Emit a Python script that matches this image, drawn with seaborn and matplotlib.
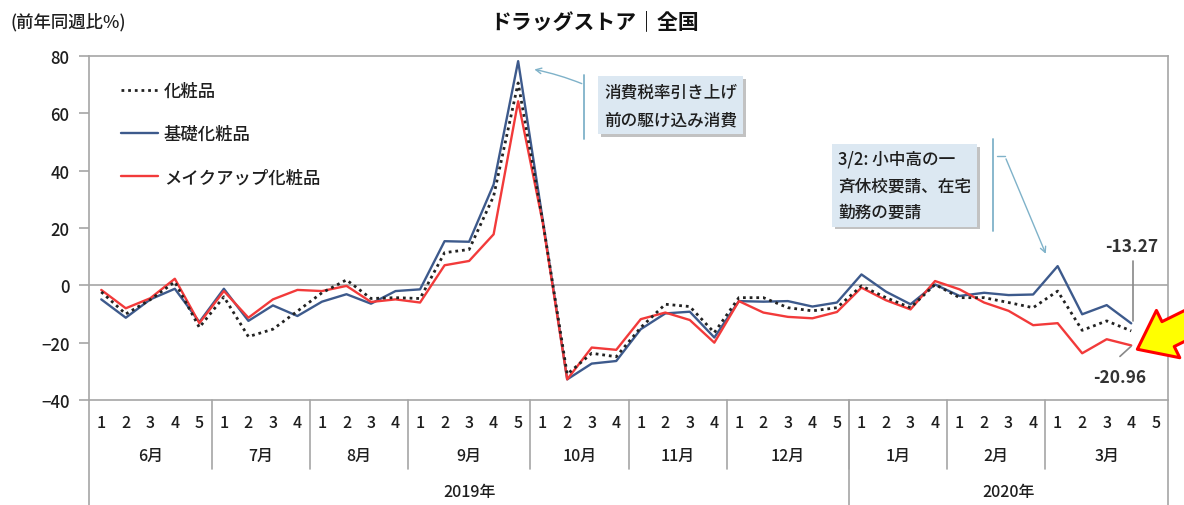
import matplotlib
matplotlib.use("Agg")
import matplotlib.pyplot as plt
import matplotlib.patheffects as pe
import matplotlib.transforms as mtransforms
import numpy as np
import pandas as pd
import seaborn as sns

sns.set_style("white")
plt.rcParams['font.family'] = ['Noto Sans CJK JP', 'DejaVu Sans']

# x axis structure: weeks within months within years
months = ['6月', '7月', '8月', '9月', '10月', '11月', '12月', '1月', '2月', '3月']
weeks_per_month = [5, 4, 4, 5, 4, 4, 5, 4, 4, 5]
years = ['2019年', '2020年']
months_per_year = [7, 3]

# weekly YoY change (%), June wk1 2019 .. March wk4 2020
cosmetics = [-2.3, -10.0, -5.0, 1.2, -14.7, -4.0, -17.9, -15.3, -9.0, -2.6,
             1.9, -4.6, -4.3, -4.6, 11.4, 12.5, 31.1, 70.6, 22.5, -31.0,
             -23.7, -24.9, -14.7, -6.6, -7.4, -16.5, -4.3, -4.3, -7.8, -8.9,
             -7.8, -0.2, -4.3, -7.8, 0.3, -4.3, -4.3, -6.0, -7.8, -2.0,
             -15.7, -12.4, -15.9]
basic = [-4.9, -11.3, -4.9, -1.2, -12.8, -1.2, -12.4, -7.0, -10.7, -5.7,
         -3.1, -6.4, -2.0, -1.4, 15.4, 15.2, 35.2, 78.2, 23.0, -32.8,
         -27.3, -26.4, -15.3, -9.8, -9.2, -18.2, -5.5, -5.7, -5.5, -7.4,
         -6.0, 3.8, -2.2, -6.6, 0.3, -3.7, -2.6, -3.4, -3.2, 6.7,
         -10.1, -6.9, -13.27]
makeup = [-1.6, -8.0, -4.5, 2.3, -13.2, -2.0, -11.3, -4.9, -1.6, -2.0,
          -0.2, -5.8, -4.9, -6.0, 7.0, 8.5, 17.8, 64.2, 22.0, -32.8,
          -21.7, -22.5, -11.8, -9.5, -12.1, -20.0, -5.5, -9.5, -11.0, -11.5,
          -9.3, -0.8, -5.2, -8.4, 1.5, -1.4, -6.0, -8.9, -13.9, -13.2,
          -23.7, -18.8, -20.96]

week_labels = [str(w) for n in weeks_per_month for w in range(1, n + 1)]
n_slots = len(week_labels)

df = pd.DataFrame({
    'slot': np.arange(len(cosmetics)),
    '化粧品': cosmetics,
    '基礎化粧品': basic,
    'メイクアップ化粧品': makeup,
})

BLUE = '#3d5a8c'
RED = '#f23a3a'
GRID = '#a6a6a6'
INK = '#1e1e1e'

fig = plt.figure(figsize=(11.84, 5.06), dpi=100)
ax = fig.add_axes([89 / 1184, 105 / 506, 1079 / 1184, 344 / 506])

sns.lineplot(data=df, x='slot', y='基礎化粧品', ax=ax, color=BLUE, lw=1.7, label='基礎化粧品')
sns.lineplot(data=df, x='slot', y='メイクアップ化粧品', ax=ax, color=RED, lw=1.7, label='メイクアップ化粧品')
sns.lineplot(data=df, x='slot', y='化粧品', ax=ax, color='#222222', lw=2.0,
             linestyle=(0, (1, 1.4)), label='化粧品')

ax.set_xlim(-0.5, n_slots - 0.5)
ax.set_ylim(-40, 80)
ax.set_yticks(range(-40, 81, 20))
ax.set_xticks([])
ax.set_xlabel('')
ax.set_ylabel('')
ax.axhline(0, color=GRID, lw=1.2, zorder=0)
for s in ax.spines.values():
    s.set_color(GRID)
    s.set_linewidth(1.2)
ax.tick_params(axis='y', left=True, length=7, width=1.2, color=GRID, pad=7,
               labelsize=12, labelcolor=INK)
for lab in ax.get_yticklabels():
    lab.set_fontweight('medium')

# legend in dotted / blue / red order
lines = ax.get_lines()
handles = [lines[2], lines[0], lines[1]]
leg = ax.legend(handles=handles, labels=[h.get_label() for h in handles],
                loc='upper left', bbox_to_anchor=(0.03, 0.925), frameon=False,
                fontsize=12.5, handlelength=2.1, handletextpad=0.35,
                labelspacing=1.45, borderpad=0, borderaxespad=0)
for t in leg.get_texts():
    t.set_fontweight('medium')
    t.set_color(INK)

# hierarchical x axis
trans = mtransforms.blended_transform_factory(ax.transData, ax.transAxes)
for i, lab in enumerate(week_labels):
    ax.text(i, -0.064, lab, transform=trans, ha='center', va='center',
            fontsize=11.5, fontweight='medium', color=INK)

bounds = np.concatenate([[0], np.cumsum(weeks_per_month)]) - 0.5
for m, lab in enumerate(months):
    ax.text((bounds[m] + bounds[m + 1]) / 2, -0.16, lab, transform=trans,
            ha='center', va='center', fontsize=11.5, fontweight='medium', color=INK)
year_bounds = bounds[np.concatenate([[0], np.cumsum(months_per_year)])]
for b in bounds[1:-1]:
    ax.plot([b, b], [0, -0.2], transform=trans, color=GRID, lw=1.2, clip_on=False)
for b in year_bounds:
    ax.plot([b, b], [0, -0.31], transform=trans, color=GRID, lw=1.2, clip_on=False)
for y, lab in enumerate(years):
    ax.text((year_bounds[y] + year_bounds[y + 1]) / 2, -0.265, lab, transform=trans,
            ha='center', va='center', fontsize=11.5, fontweight='medium', color=INK)

# titles
fig.text(595 / 1184, 1 - 22 / 506, 'ドラッグストア｜全国', ha='center', va='center',
         fontsize=15, fontweight='bold', color='#111111')
fig.text(10 / 1184, 1 - 22 / 506, '(前年同週比%)', ha='left', va='center',
         fontsize=12.5, fontweight='medium', color=INK)

# callout boxes
BOX = '#dce8f2'
TEAL = '#7fb2c9'
shadow = [pe.SimplePatchShadow(offset=(2, -2), shadow_rgbFace='#9a9a9a', alpha=0.6), pe.Normal()]

t1 = ax.text(20.5, 62.8, '消費税率引き上げ\n前の駆け込み消費', ha='left', va='center',
             fontsize=12, fontweight='medium', linespacing=1.75, color=INK,
             bbox=dict(boxstyle='square,pad=0.35', fc=BOX, ec='none'))
t1.get_bbox_patch().set_path_effects(shadow)
ax.plot([19.7, 19.7], [51, 73.5], color=TEAL, lw=1.3)
ax.annotate('', xy=(17.55, 75.5), xytext=(19.7, 70),
            arrowprops=dict(arrowstyle='->', color=TEAL, lw=1.0,
                            connectionstyle='arc3,rad=0.05'))

t2 = ax.text(30.05, 34.9, '3/2: 小中高の一\n斉休校要請、在宅\n勤務の要請', ha='left', va='center',
             fontsize=12, fontweight='medium', linespacing=1.6, color=INK,
             bbox=dict(boxstyle='square,pad=0.35', fc=BOX, ec='none'))
t2.get_bbox_patch().set_path_effects(shadow)
ax.plot([36.36, 36.36], [18.8, 50.9], color=TEAL, lw=1.3)
ax.plot([36.52, 36.85], [45, 45], color=TEAL, lw=1.0)
ax.annotate('', xy=(38.56, 10.1), xytext=(36.85, 45),
            arrowprops=dict(arrowstyle='->', color=TEAL, lw=1.0))

# end-point labels
ax.text(42.03, 13.6, f'{basic[-1]:.2f}', ha='center', va='center', fontsize=12.5,
        fontweight='bold', color='#333333')
ax.plot([42.07, 42.07], [8.4, -12.6], color='#888888', lw=1.2)
ax.text(41.54, -32.1, f'{makeup[-1]:.2f}', ha='center', va='center', fontsize=12.5,
        fontweight='bold', color='#333333')
ax.plot([41.54, 41.99], [-24.8, -21.3], color='#888888', lw=1.2)

# highlight arrow
ax.annotate('', xy=(42.25, -22.3), xytext=(45.4, -9.0), annotation_clip=False,
            arrowprops=dict(arrowstyle='simple,head_length=1.3,head_width=2.0,tail_width=1.05',
                            mutation_scale=19, fc='#ffff00', ec='#ff0000', lw=2.2,
                            shrinkA=0, shrinkB=0))

fig.savefig('out.png', dpi=100)
